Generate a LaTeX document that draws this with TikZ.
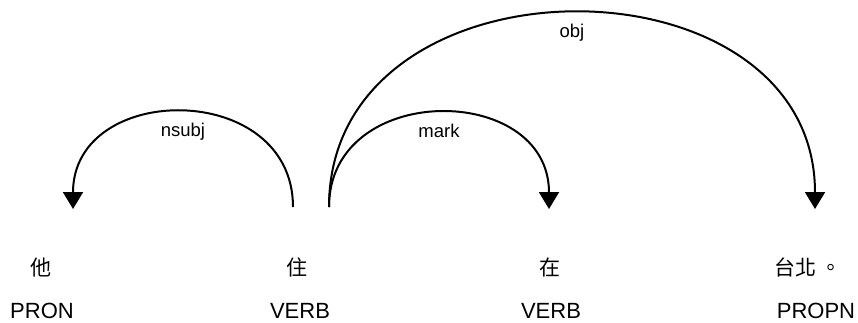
\documentclass[tikz,border=0pt]{standalone}
\usepackage{fontspec}
\setmainfont{Liberation Sans}
\newfontfamily\cjk{Noto Sans CJK TC}
\usetikzlibrary{arrows.meta}
\tikzset{
  word/.style={anchor=base,inner sep=0pt,font=\cjk\fontsize{21}{21}\selectfont},
  tag/.style={anchor=base,inner sep=0pt,font=\fontsize{22}{22}\selectfont},
  dep/.style={line width=2pt,-{Triangle[width=20pt,length=17pt]}},
  lbl/.style={anchor=base,inner sep=0pt,yshift=-24pt,font=\fontsize{18.5}{18.5}\selectfont},
}

\begin{document}
\begin{tikzpicture}[x=1pt,y=-1pt]
  \useasboundingbox (0,0) rectangle (858,322);

  % tokens and their tags
  \node[word] (w1) at (40.5,275) {他};
  \node[word] (w2) at (297,275)  {住};
  \node[word] (w3) at (550,275)  {在};
  \node[word] (w4) at (808,275)  {台北 。};
  \node[tag]  (t1) at (42,318)   {PRON};
  \node[tag]  (t2) at (300,318)  {VERB};
  \node[tag]  (t3) at (551,318)  {VERB};
  \node[tag]  (t4) at (816,318)  {PROPN};

  % arc ends above the tokens
  \coordinate (h1) at (293,207);
  \coordinate (h2) at (329,207);
  \coordinate (d1) at (73,209);
  \coordinate (d3) at (549,209);
  \coordinate (d4) at (815,209);

  \draw[dep] (h1) .. controls +(0,-127) and +(0,-128) .. (d1)
        node[lbl,pos=0.5] {nsubj};
  \draw[dep] (h2) .. controls +(0,-126) and +(0,-127) .. (d3)
        node[lbl,pos=0.5] {mark};
  \draw[dep] (h2) .. controls +(0,-259) and +(0,-260) .. (d4)
        node[lbl,pos=0.5] {obj};

\end{tikzpicture}
\end{document}
